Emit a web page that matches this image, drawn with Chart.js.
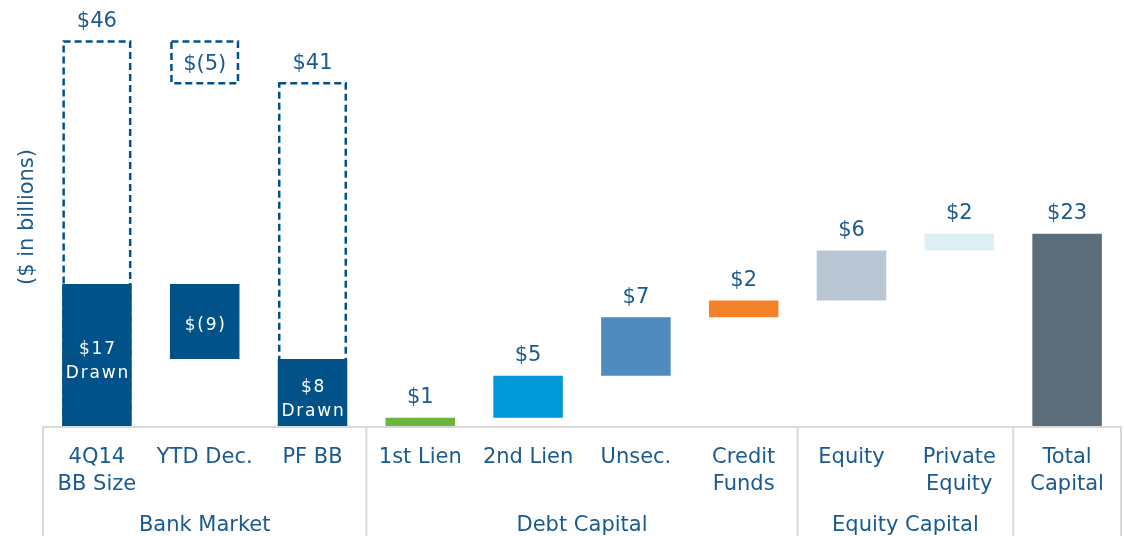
<!DOCTYPE html>
<html>
<head>
<meta charset="utf-8">
<script src="https://cdn.jsdelivr.net/npm/chart.js@4"></script>
<style>
  html, body { margin: 0; padding: 0; background: #ffffff; }
  #wrap { width: 1124px; height: 536px; }
</style>
</head>
<body>
<div id="wrap"><canvas id="c" width="1124" height="536"></canvas></div>
<script>
// ---- data ----
const categories = [['4Q14', 'BB Size'], 'YTD Dec.', 'PF BB', '1st Lien', '2nd Lien', 'Unsec.', ['Credit', 'Funds'], 'Equity', ['Private', 'Equity'], ['Total', 'Capital']];
const groupNames = ['Bank Market', 'Debt Capital', 'Equity Capital', ''];
const groupSizes = [3, 4, 2, 1];
const barStart = [0, 17, 0, 0, 1, 6, 13, 15, 21, 0];
const barEnd = [17, 8, 8, 1, 6, 13, 15, 21, 23, 23];
const barColors = ['#02528A', '#02528A', '#02528A', '#6DB33F', '#0098D6', '#4F8BBE', '#F5822A', '#B8C6D4', '#DCEFF6', '#5B6C7B'];
const valueLabels = [null, null, null, '$1', '$5', '$7', '$2', '$6', '$2', '$23'];
const insideLabels = [['$17', 'Drawn'], ['$(9)'], ['$8', 'Drawn'], null, null, null, null, null, null, null];
const capacityStart = [0, 46, 0];
const capacityEnd = [46, 41, 41];
const capacityLabels = ['$46', '$(5)', '$41'];
const capacityLabelInside = [false, true, false];

const TEXT = '#1A5A8E';
const GRID = '#D9D9D9';
const FONT = '"DejaVu Sans", Verdana, sans-serif';

const waterfallPlugin = {
  id: 'waterfall',
  beforeDatasetsDraw(chart) {
    const ctx = chart.ctx, x = chart.scales.x, y = chart.scales.y;
    const meta = chart.getDatasetMeta(0);
    ctx.save();
    ctx.strokeStyle = '#02528A';
    ctx.lineWidth = 2.5;
    ctx.setLineDash([7, 4]);
    capacityStart.forEach((s, i) => {
      const bar = meta.data[i];
      const half = bar.width / 2;
      const cx = x.getPixelForValue(i);
      const yTop = y.getPixelForValue(Math.max(s, capacityEnd[i]));
      const yBot = y.getPixelForValue(Math.min(s, capacityEnd[i]));
      ctx.strokeRect(cx - half + 1.5, yTop, bar.width - 3, yBot - yTop);
    });
    ctx.restore();
  },
  afterDatasetsDraw(chart) {
    const ctx = chart.ctx, x = chart.scales.x, y = chart.scales.y;
    const area = chart.chartArea;
    const H = chart.height;
    ctx.save();
    // table lines
    ctx.strokeStyle = GRID;
    ctx.lineWidth = 2;
    ctx.beginPath();
    ctx.moveTo(area.left, area.bottom + 1);
    ctx.lineTo(area.right, area.bottom + 1);
    const step = x.getPixelForValue(1) - x.getPixelForValue(0);
    let idx = 0;
    const bounds = [x.getPixelForValue(0) - step / 2];
    groupSizes.forEach(n => { idx += n; bounds.push(x.getPixelForValue(idx - 1) + step / 2); });
    bounds.forEach(bx => { ctx.moveTo(bx, area.bottom); ctx.lineTo(bx, H); });
    ctx.stroke();
    // group labels
    ctx.fillStyle = TEXT;
    ctx.font = '21px ' + FONT;
    ctx.textAlign = 'center';
    ctx.textBaseline = 'middle';
    groupNames.forEach((g, k) => {
      if (!g) return;
      ctx.fillText(g, (bounds[k] + bounds[k + 1]) / 2, 526);
    });
    // capacity labels
    capacityLabels.forEach((t, i) => {
      const cx = x.getPixelForValue(i);
      if (capacityLabelInside[i]) {
        const yc = (y.getPixelForValue(capacityStart[i]) + y.getPixelForValue(capacityEnd[i])) / 2;
        ctx.fillText(t, cx, yc + 2);
      } else {
        const yt = y.getPixelForValue(Math.max(capacityStart[i], capacityEnd[i]));
        ctx.fillText(t, cx, yt - 20);
      }
    });
    // value labels above bars
    valueLabels.forEach((t, i) => {
      if (!t) return;
      const yt = y.getPixelForValue(Math.max(barStart[i], barEnd[i]));
      ctx.fillText(t, x.getPixelForValue(i), yt - 20);
    });
    // inside labels
    ctx.fillStyle = '#FFFFFF';
    ctx.font = '17px ' + FONT;
    if ('letterSpacing' in ctx) ctx.letterSpacing = '1.8px';
    insideLabels.forEach((lines, i) => {
      if (!lines) return;
      const yc = (y.getPixelForValue(barStart[i]) + y.getPixelForValue(barEnd[i])) / 2 + (lines.length > 1 ? 7 : 4);
      const lh = 24;
      const y0 = yc - (lines.length - 1) * lh / 2;
      lines.forEach((ln, j) => ctx.fillText(ln, x.getPixelForValue(i) + 1, y0 + j * lh));
    });
    ctx.restore();
  }
};

new Chart(document.getElementById('c'), {
  type: 'bar',
  data: {
    labels: categories,
    datasets: [{
      data: barStart.map((s, i) => [s, barEnd[i]]),
      backgroundColor: barColors,
      borderWidth: 0,
      barPercentage: 0.645,
      categoryPercentage: 1.0
    }]
  },
  options: {
    responsive: false,
    animation: false,
    devicePixelRatio: 1,
    layout: { padding: { top: 8, right: 3, left: 0, bottom: 0 } },
    plugins: { legend: { display: false }, tooltip: { enabled: false } },
    scales: {
      x: {
        grid: { display: false, drawTicks: false },
        border: { display: false },
        ticks: {
          autoSkip: false, maxRotation: 0, minRotation: 0,
          color: TEXT,
          font: { family: FONT, size: 21, lineHeight: 1.24 },
          padding: 19
        },
        afterFit(scale) { scale.height = 110; }
      },
      y: {
        min: 0, max: 50,
        grid: { display: false, drawTicks: false },
        border: { display: false },
        ticks: { display: false },
        title: {
          display: true, text: '($ in billions)', color: TEXT,
          font: { family: FONT, size: 21 }, padding: { top: 15, bottom: 0 }
        },
        afterFit(scale) { scale.width = 43; }
      }
    }
  },
  plugins: [waterfallPlugin]
});
</script>
</body>
</html>
